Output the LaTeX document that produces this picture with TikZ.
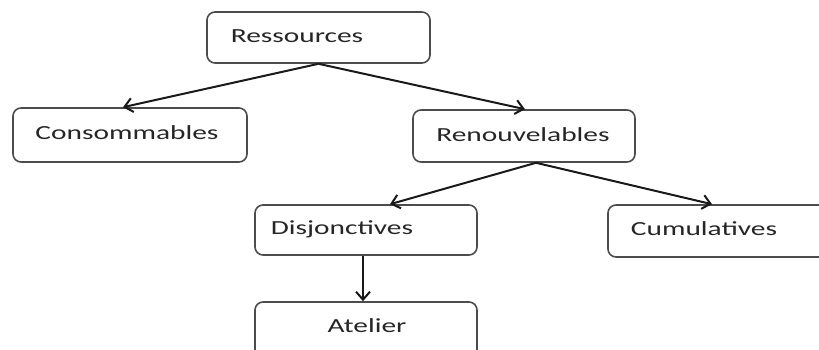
\documentclass[tikz,border=0pt]{standalone}
\usepackage{fontspec}
\setmainfont{Carlito}[FakeStretch=1.47]
\usetikzlibrary{arrows.meta}
\tikzset{
  box/.style={draw=black!70, line width=1.6pt, rounded corners=8pt, fill=white,
              inner sep=0pt},
  lbl/.style={font=\fontsize{20}{22}\selectfont, text=black!85, inner sep=0pt},
  link/.style={draw=black!90, line width=2pt,
               -{Straight Barb[length=8pt,width=14pt,line width=2pt]}}
}
\begin{document}
\begin{tikzpicture}[x=1pt,y=-1pt]
  \useasboundingbox (0,0) rectangle (819,349);
  \clip (0,0) rectangle (819,349);
  % boxes
  \node[box, minimum width=223pt, minimum height=51pt] (res) at (318.5,37.5) {};
  \node[box, minimum width=234pt, minimum height=54pt] (con) at (130,135) {};
  \node[box, minimum width=222pt, minimum height=52pt] (ren) at (524,136) {};
  \node[box, minimum width=222pt, minimum height=50pt] (dis) at (366,230) {};
  \node[box, minimum width=224pt, minimum height=52pt] (cum) at (720,231) {};
  \node[box, minimum width=222pt, minimum height=60pt] (ate) at (366,332) {};
  % labels
  \node[lbl] (tres) at (297,36) {Ressources};
  \node[lbl] (tcon) at (127,133) {Consommables};
  \node[lbl] (tren) at (523,135) {Renouvelables};
  \node[lbl] (tdis) at (342,229) {Disjonctives};
  \node[lbl] (tcum) at (704,229) {Cumulatives};
  \node[lbl] (tate) at (367,326) {Atelier};
  % anchor points on the box borders
  \coordinate (resb) at ([xshift=0pt]res.south);
  \coordinate (conT) at ([xshift=-7pt]con.north);
  \coordinate (renT) at ([xshift=1pt]ren.north);
  \coordinate (renb) at ([xshift=12pt]ren.south);
  \coordinate (disT) at ([xshift=24pt]dis.north);
  \coordinate (cumT) at ([xshift=-8pt]cum.north);
  \coordinate (disb) at ([xshift=-3pt]dis.south);
  \coordinate (ateT) at ([xshift=-3pt]ate.north);
  % connectors
  \draw[link] (resb) -- (conT);
  \draw[link] (resb) -- (renT);
  \draw[link] (renb) -- (disT);
  \draw[link] (renb) -- (cumT);
  \draw[link] (disb) -- (ateT);
\end{tikzpicture}
\end{document}
